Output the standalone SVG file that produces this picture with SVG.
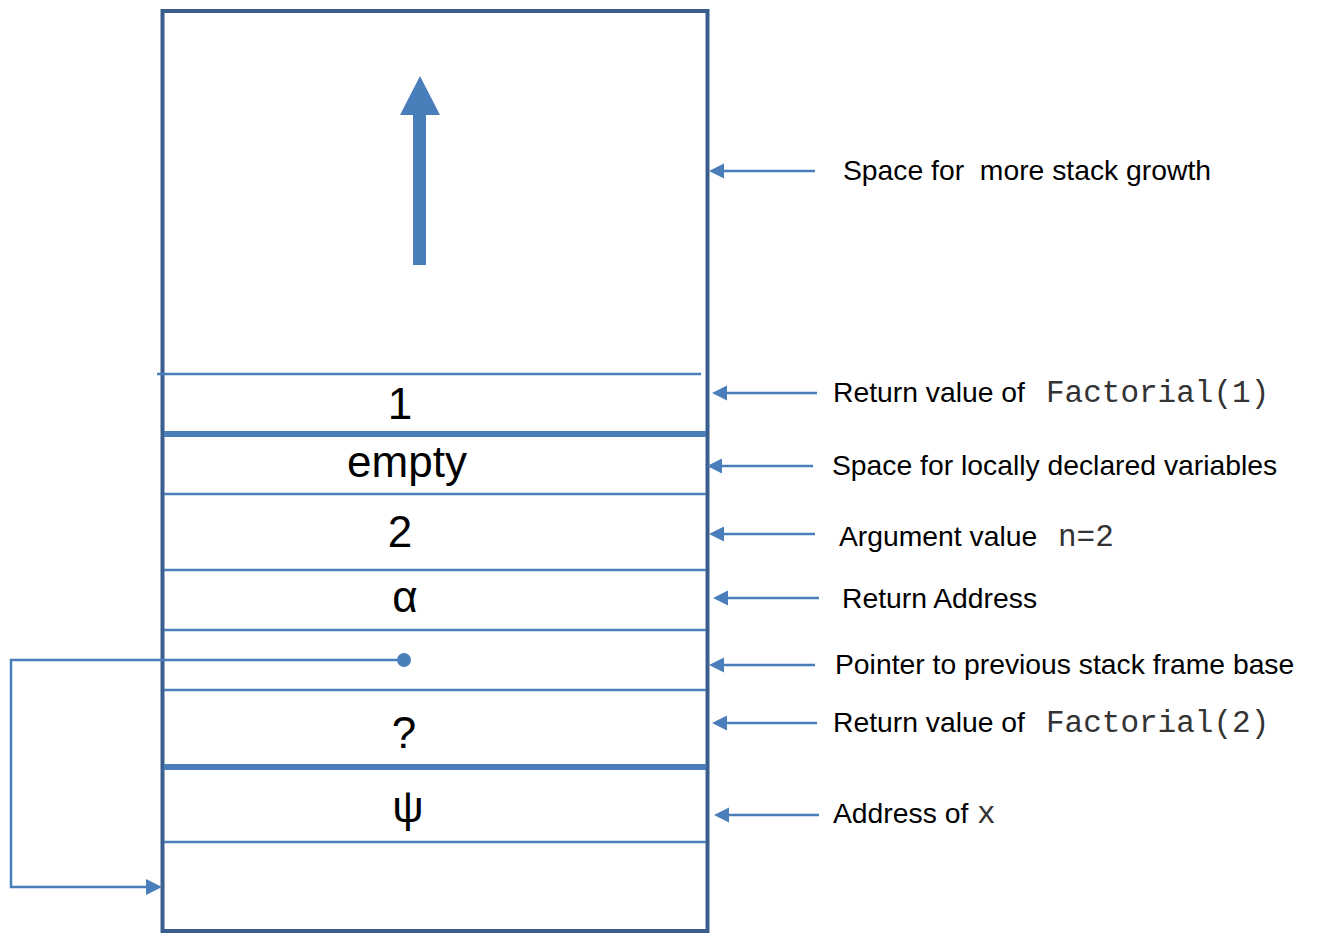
<svg xmlns="http://www.w3.org/2000/svg" width="1325" height="933" viewBox="0 0 1325 933">
<style>
.frame{fill:none;stroke:#3a5f8e;stroke-width:4}
.thin{stroke:#4a7ebb;stroke-width:2.5;fill:none}
.thick{stroke:#4a7ebb;stroke-width:6;fill:none}
.head{fill:#4a7ebb}
.cell{font-family:"Liberation Sans",Arial,sans-serif;font-size:44px;fill:#000;text-anchor:middle}
.lbl{font-family:"Liberation Sans",Arial,sans-serif;font-size:28.3px;fill:#000;white-space:pre}
.mono{font-family:"Liberation Mono","Courier New",monospace;font-size:31px;fill:#333}
</style>
<rect width="1325" height="933" fill="#fff"/>
<g id="stack">
<rect class="frame" x="162.5" y="11" width="545" height="920"/>
<line class="thin" x1="157" y1="374" x2="701" y2="374"/>
<line class="thick" x1="164" y1="434" x2="706" y2="434"/>
<line class="thin" x1="164" y1="494" x2="706" y2="494"/>
<line class="thin" x1="164" y1="570" x2="706" y2="570"/>
<line class="thin" x1="164" y1="630" x2="706" y2="630"/>
<line class="thin" x1="164" y1="690" x2="706" y2="690"/>
<line class="thick" x1="164" y1="767" x2="706" y2="767"/>
<line class="thin" x1="164" y1="842" x2="706" y2="842"/>
</g>
<g id="growth-arrow">
<rect x="413" y="114" width="13" height="151" fill="#4a7ebb"/>
<polygon points="400,115 440,115 420,76" fill="#4a7ebb"/>
</g>
<g id="cells">
<text class="cell" x="400" y="419">1</text>
<text class="cell" x="407" y="477">empty</text>
<text class="cell" x="400" y="547">2</text>
<text class="cell" x="405" y="612">α</text>
<text class="cell" x="404" y="748">?</text>
<text class="cell" x="408" y="822">ψ</text>
<circle cx="404" cy="660" r="7" fill="#4a7ebb"/>
</g>
<g id="connectors">
<polyline class="thin" points="404,660 11,660 11,887 148,887"/>
<polygon class="head" points="162,887 146,879 146,895"/>
<line class="thin" x1="815" y1="171" x2="722" y2="171"/>
<polygon class="head" points="709,171 724,163.5 724,178.5"/>
<line class="thin" x1="817" y1="393" x2="725" y2="393"/>
<polygon class="head" points="712,393 727,385.5 727,400.5"/>
<line class="thin" x1="813" y1="466" x2="720" y2="466"/>
<polygon class="head" points="707,466 722,458.5 722,473.5"/>
<line class="thin" x1="815" y1="534" x2="722" y2="534"/>
<polygon class="head" points="709,534 724,526.5 724,541.5"/>
<line class="thin" x1="819" y1="598" x2="726" y2="598"/>
<polygon class="head" points="713,598 728,590.5 728,605.5"/>
<line class="thin" x1="815" y1="665" x2="722" y2="665"/>
<polygon class="head" points="709,665 724,657.5 724,672.5"/>
<line class="thin" x1="817" y1="723" x2="725" y2="723"/>
<polygon class="head" points="712,723 727,715.5 727,730.5"/>
<line class="thin" x1="819" y1="815" x2="727" y2="815"/>
<polygon class="head" points="714,815 729,807.5 729,822.5"/>
</g>
<g id="labels">
<text class="lbl" x="843" y="180">Space for  more stack growth</text>
<text class="lbl" x="833" y="402">Return value of <tspan class="mono" x="1046">Factorial(1)</tspan></text>
<text class="lbl" x="832" y="475">Space for locally declared variables</text>
<text class="lbl" x="839" y="546">Argument value <tspan class="mono" x="1058">n=2</tspan></text>
<text class="lbl" x="842" y="608">Return Address</text>
<text class="lbl" x="835" y="674">Pointer to previous stack frame base</text>
<text class="lbl" x="833" y="732">Return value of <tspan class="mono" x="1046">Factorial(2)</tspan></text>
<text class="lbl" x="833" y="823">Address of <tspan class="mono" x="977">x</tspan></text>
</g>
</svg>
